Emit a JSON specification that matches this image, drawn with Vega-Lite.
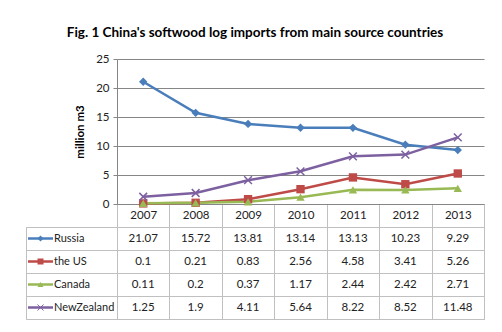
{
  "$schema": "https://vega.github.io/schema/vega-lite/v6.json",
  "background": "white",
  "padding": {"left": 25, "top": 25, "right": 5, "bottom": 5},
  "title": {
    "text": "Fig. 1 China's softwood log imports from main source countries",
    "font": "Lato",
    "fontSize": 13.5,
    "fontWeight": "bold",
    "color": "#000000",
    "anchor": "middle",
    "offset": 14
  },
  "data": {
    "values": [
      {"series": "Russia", "year": "2007", "value": 21.07},
      {"series": "Russia", "year": "2008", "value": 15.72},
      {"series": "Russia", "year": "2009", "value": 13.81},
      {"series": "Russia", "year": "2010", "value": 13.14},
      {"series": "Russia", "year": "2011", "value": 13.13},
      {"series": "Russia", "year": "2012", "value": 10.23},
      {"series": "Russia", "year": "2013", "value": 9.29},
      {"series": "the US", "year": "2007", "value": 0.1},
      {"series": "the US", "year": "2008", "value": 0.21},
      {"series": "the US", "year": "2009", "value": 0.83},
      {"series": "the US", "year": "2010", "value": 2.56},
      {"series": "the US", "year": "2011", "value": 4.58},
      {"series": "the US", "year": "2012", "value": 3.41},
      {"series": "the US", "year": "2013", "value": 5.26},
      {"series": "Canada", "year": "2007", "value": 0.11},
      {"series": "Canada", "year": "2008", "value": 0.2},
      {"series": "Canada", "year": "2009", "value": 0.37},
      {"series": "Canada", "year": "2010", "value": 1.17},
      {"series": "Canada", "year": "2011", "value": 2.44},
      {"series": "Canada", "year": "2012", "value": 2.42},
      {"series": "Canada", "year": "2013", "value": 2.71},
      {"series": "NewZealand", "year": "2007", "value": 1.25},
      {"series": "NewZealand", "year": "2008", "value": 1.9},
      {"series": "NewZealand", "year": "2009", "value": 4.11},
      {"series": "NewZealand", "year": "2010", "value": 5.64},
      {"series": "NewZealand", "year": "2011", "value": 8.22},
      {"series": "NewZealand", "year": "2012", "value": 8.52},
      {"series": "NewZealand", "year": "2013", "value": 11.48}
    ]
  },
  "columns": 2,
  "spacing": {"row": 23, "column": 0},
  "bounds": "flush",
  "concat": [
    {
      "width": 91,
      "height": 145,
      "transform": [{"filter": "datum.year == '2007' && datum.series == 'Russia'"}],
      "mark": {"type": "text"},
      "encoding": {"text": {"value": ""}}
    },
    {
      "width": 367,
      "height": 145,
      "encoding": {
        "x": {
          "field": "year",
          "type": "ordinal",
          "scale": {"type": "band", "paddingInner": 0, "paddingOuter": 0},
          "axis": {
            "title": null,
            "orient": "bottom",
            "tickBand": "extent",
            "tickSize": 23,
            "tickColor": "#c0c0c0",
            "domainColor": "#868686",
            "labelPadding": -11.5,
            "labelBaseline": "middle",
            "labelAngle": 0,
            "labelFontSize": 11.5,
            "labelColor": "#222222",
            "grid": false
          }
        },
        "y": {
          "field": "value",
          "type": "quantitative",
          "scale": {"domain": [0, 25], "nice": false},
          "axis": {
            "title": "million m3",
            "titleFontWeight": "bold",
            "titleFontSize": 11.5,
            "titleColor": "#000000",
            "titlePadding": 10,
            "values": [0, 5, 10, 15, 20, 25],
            "grid": true,
            "gridColor": "#868686",
            "domainColor": "#868686",
            "tickColor": "#868686",
            "tickSize": 4,
            "labelPadding": 4,
            "labelFontSize": 11.5,
            "labelColor": "#222222"
          }
        },
        "color": {
          "field": "series",
          "type": "nominal",
          "scale": {
            "domain": ["Russia", "the US", "Canada", "NewZealand"],
            "range": ["#4a7ebb", "#be4b48", "#98b954", "#7d60a0"]
          },
          "legend": null
        }
      },
      "layer": [
        {"mark": {"type": "line", "strokeWidth": 2.5}},
        {
          "transform": [{"filter": "datum.series != 'NewZealand'"}],
          "mark": {"type": "point", "filled": true, "opacity": 1, "size": 70},
          "encoding": {
            "shape": {
              "field": "series",
              "type": "nominal",
              "scale": {
                "domain": ["Russia", "the US", "Canada", "NewZealand"],
                "range": ["diamond", "square", "triangle-up", "M-1,-1L1,1M-1,1L1,-1"]
              },
              "legend": null
            }
          }
        },
        {
          "transform": [{"filter": "datum.series == 'NewZealand'"}],
          "mark": {"type": "point", "filled": false, "opacity": 1, "size": 60, "strokeWidth": 1.5, "shape": "M-1,-1L1,1M-1,1L1,-1"}
        }
      ]
    },
    {
      "width": 91,
      "height": 92,
      "view": {"stroke": "#c0c0c0"},
      "transform": [{"filter": "datum.year == '2007'"}],
      "encoding": {
        "y": {
          "field": "series",
          "type": "nominal",
          "scale": {"domain": ["Russia", "the US", "Canada", "NewZealand"], "paddingInner": 0, "paddingOuter": 0},
          "axis": {"grid": true, "tickBand": "extent", "labels": false, "ticks": false, "domain": false, "title": null, "gridColor": "#c0c0c0"}
        },
        "color": {
          "field": "series",
          "type": "nominal",
          "scale": {
            "domain": ["Russia", "the US", "Canada", "NewZealand"],
            "range": ["#4a7ebb", "#be4b48", "#98b954", "#7d60a0"]
          },
          "legend": null
        }
      },
      "layer": [
        {"mark": {"type": "tick", "orient": "horizontal", "size": 25, "thickness": 2.5, "xOffset": -31, "opacity": 1}},
        {
          "transform": [{"filter": "datum.series != 'NewZealand'"}],
          "mark": {"type": "point", "filled": true, "opacity": 1, "size": 36, "xOffset": -31},
          "encoding": {
            "shape": {
              "field": "series",
              "type": "nominal",
              "scale": {
                "domain": ["Russia", "the US", "Canada", "NewZealand"],
                "range": ["diamond", "square", "triangle-up", "M-1,-1L1,1M-1,1L1,-1"]
              },
              "legend": null
            }
          }
        },
        {
          "transform": [{"filter": "datum.series == 'NewZealand'"}],
          "mark": {"type": "point", "filled": false, "opacity": 1, "size": 36, "strokeWidth": 1, "xOffset": -31, "shape": "M-1,-1L1,1M-1,1L1,-1", "color": "#b7a8cc"}
        },
        {
          "mark": {"type": "text", "align": "left", "dx": -17.5, "fontSize": 11, "color": "#222222"},
          "encoding": {"text": {"field": "series"}, "color": {"value": "#222222"}}
        }
      ]
    },
    {
      "width": 367,
      "height": 92,
      "view": {"stroke": "#c0c0c0"},
      "mark": {"type": "text", "fontSize": 11.5, "color": "#222222"},
      "encoding": {
        "x": {
          "field": "year",
          "type": "ordinal",
          "scale": {"type": "band", "paddingInner": 0, "paddingOuter": 0},
          "axis": {"grid": true, "tickBand": "extent", "labels": false, "ticks": false, "domain": false, "title": null, "gridColor": "#c0c0c0"}
        },
        "y": {
          "field": "series",
          "type": "nominal",
          "scale": {"domain": ["Russia", "the US", "Canada", "NewZealand"], "paddingInner": 0, "paddingOuter": 0},
          "axis": {"grid": true, "tickBand": "extent", "labels": false, "ticks": false, "domain": false, "title": null, "gridColor": "#c0c0c0"}
        },
        "text": {"field": "value", "type": "nominal"}
      }
    }
  ],
  "resolve": {"scale": {"x": "independent", "y": "independent"}},
  "config": {
    "view": {"stroke": null},
    "font": "Lato",
    "axis": {"labelFont": "Lato", "titleFont": "Lato"}
  }
}
